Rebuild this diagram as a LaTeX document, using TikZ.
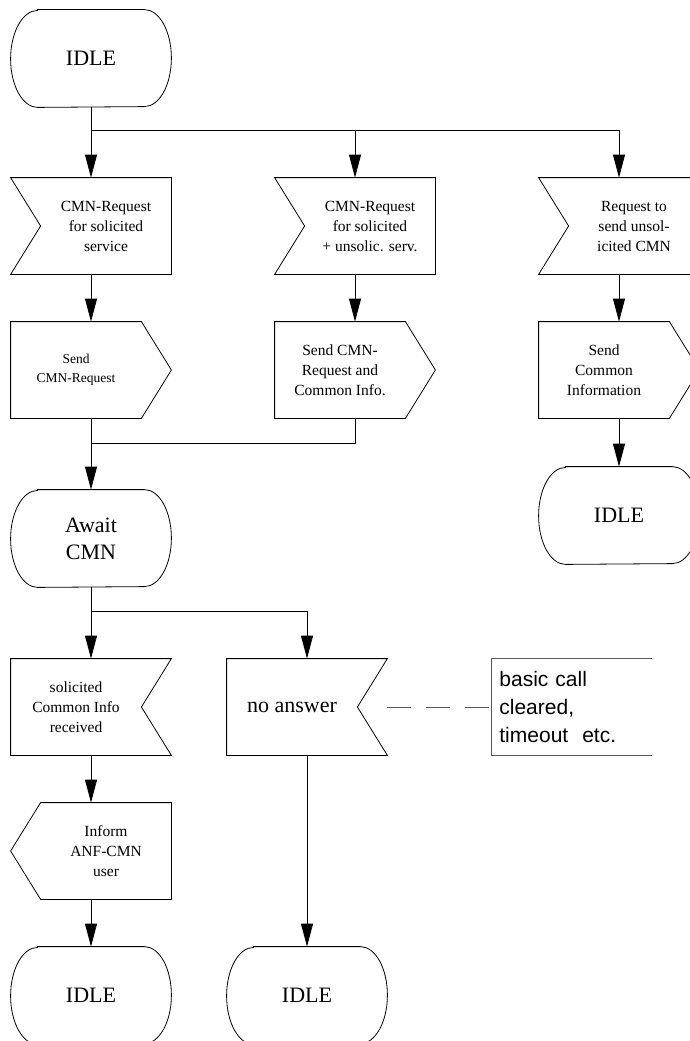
\documentclass[tikz,border=0pt]{standalone}
\usepackage{fontspec}
\setmainfont{Liberation Serif}
\newfontfamily\notefont{Liberation Sans}
\usetikzlibrary{arrows.meta}

\newcommand{\bigtxt}{\fontsize{22}{27}\selectfont}
\newcommand{\smalltxt}{\fontsize{15.5}{20}\selectfont}

\begin{document}
\begin{tikzpicture}[x=1pt,y=1pt,line width=0.8pt,
    state/.style={minimum width=160pt,minimum height=97pt,inner sep=0pt,align=center,font=\bigtxt},
    sig/.style={minimum width=130pt,minimum height=96pt,inner sep=0pt,align=center,font=\smalltxt},
    note/.style={minimum height=96pt,text width=144pt,inner xsep=8pt,align=left,font=\notefont\fontsize{21}{28}\selectfont},
    flow/.style={-{Triangle[length=23pt,width=12pt]}},
    comment/.style={draw=gray!70!black}]

    \useasboundingbox (0,0) rectangle (690,-1041);
    \clip (0,0) rectangle (690,-1041);

    \node[state] at (91,-58.5) (idleA) {IDLE};
    \node[sig] at (106,-226) (reqA) {CMN-Request\\for solicited\\service};
    \node[sig] at (370,-226) (reqB) {CMN-Request\\for solicited\\+ unsolic. serv.};
    \node[sig] at (634,-226) (reqC) {Request to\\send unsol-\\icited CMN};
    \node[sig,font=\fontsize{13.5}{19}\selectfont] at (76,-370) (sendA) {Send\\CMN-Request};
    \node[sig] at (340,-370) (sendB) {Send CMN-\\Request and\\Common Info.};
    \node[sig] at (604,-370) (sendC) {Send\\Common\\Information};
    \node[state] at (91,-538.5) (await) {Await\\CMN};
    \node[state] at (619,-515.5) (idleC) {IDLE};
    \node[sig] at (76,-707) (gotInfo) {solicited\\Common Info\\received};
    \node[sig,font=\bigtxt] at (292,-707) (noAns) {no answer};
    \node[note,anchor=west] at (491,-707) (timeout) {basic call\\cleared,\\timeout~ etc.};
    \node[sig] at (106,-851) (inform) {Inform\\ANF-CMN\\user};
    \node[state] at (91,-995.5) (idleD) {IDLE};
    \node[state] at (307,-995.5) (idleE) {IDLE};

    % outlines
    \foreach \n in {idleA,await,idleC,idleD,idleE}
      \draw ([xshift=27pt]\n.north west) -- ([xshift=-27pt]\n.north east)
        arc[start angle=90,end angle=-90,x radius=27pt,y radius=48.5pt]
        -- ([xshift=27pt]\n.south west)
        arc[start angle=270,end angle=90,x radius=27pt,y radius=48.5pt] -- cycle;
    \foreach \n in {reqA,reqB,reqC}
      \draw ([xshift=-30pt]\n.north west) -- (\n.north east) -- (\n.south east)
        -- ([xshift=-30pt]\n.south west) -- (\n.west) -- cycle;
    \foreach \n in {gotInfo,noAns}
      \draw (\n.north west) -- ([xshift=30pt]\n.north east) -- (\n.east)
        -- ([xshift=30pt]\n.south east) -- (\n.south west) -- cycle;
    \foreach \n in {sendA,sendB,sendC}
      \draw (\n.north west) -- (\n.north east) -- ([xshift=30pt]\n.east)
        -- (\n.south east) -- (\n.south west) -- cycle;
    \draw ([xshift=-30pt]inform.west) -- (inform.north west) -- (inform.north east)
      -- (inform.south east) -- (inform.south west) -- cycle;
    \draw[comment] (timeout.north east) -- (timeout.north west) -- (timeout.south west) -- (timeout.south east);

    % connectors
    \coordinate (forkA) at (91,-130);
    \coordinate (joinA) at (91,-443);
    \coordinate (forkB) at (91,-611);

    \draw (idleA) -- (forkA);
    \draw[flow] (forkA) -- ([xshift=-15pt]reqA.north);
    \draw[flow] (forkA) -| ([xshift=-15pt]reqB.north);
    \draw[flow] (forkA) -| ([xshift=-15pt]reqC.north);
    \draw[flow] ([xshift=-15pt]reqA.south) -- ([xshift=15pt]sendA.north);
    \draw[flow] ([xshift=-15pt]reqB.south) -- ([xshift=15pt]sendB.north);
    \draw[flow] ([xshift=-15pt]reqC.south) -- ([xshift=15pt]sendC.north);
    \draw[flow] ([xshift=15pt]sendC.south) -- (idleC);
    \draw ([xshift=15pt]sendA.south) -- (joinA);
    \draw ([xshift=15pt]sendB.south) |- (joinA);
    \draw[flow] (joinA) -- (await);
    \draw (await) -- (forkB);
    \draw[flow] (forkB) -- ([xshift=15pt]gotInfo.north);
    \draw[flow] (forkB) -| ([xshift=15pt]noAns.north);
    \draw[flow] ([xshift=15pt]gotInfo.south) -- ([xshift=-15pt]inform.north);
    \draw[flow] ([xshift=-15pt]inform.south) -- (idleD);
    \draw[flow] ([xshift=15pt]noAns.south) -- (idleE);
    \draw[comment,dash pattern=on 24pt off 15pt] ([xshift=30pt]noAns.east) -- (timeout.west);
\end{tikzpicture}
\end{document}
